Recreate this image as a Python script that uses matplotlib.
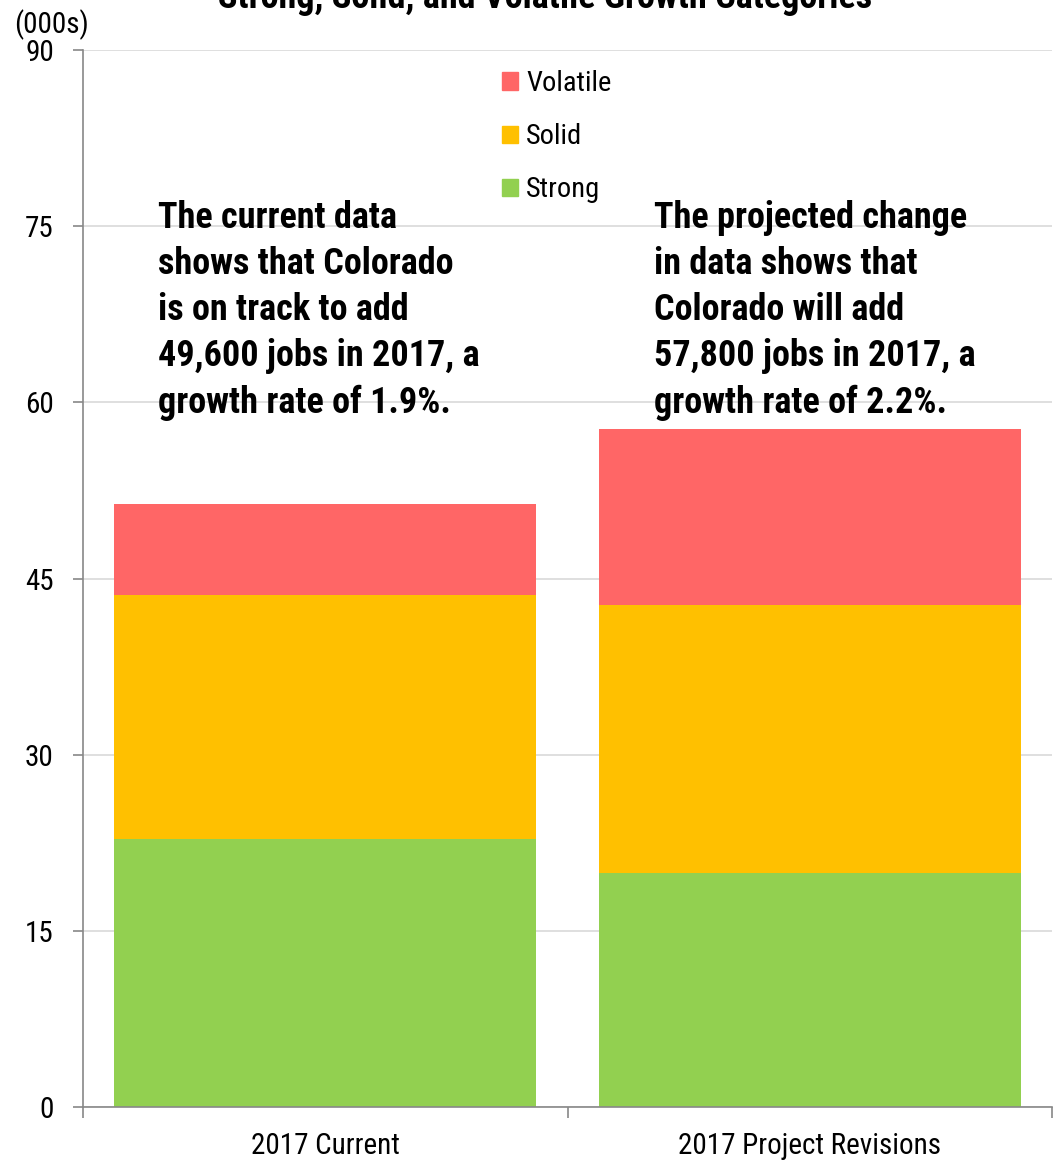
import matplotlib
matplotlib.use("Agg")
import matplotlib.pyplot as plt
from matplotlib.patches import Patch
from matplotlib import font_manager as fm

categories = ["2017 Current", "2017 Project Revisions"]
strong = [22.8, 19.9]
solid = [20.8, 22.85]
volatile = [7.75, 14.95]
yticks = [0, 15, 30, 45, 60, 75, 90]
series_names = ["Volatile", "Solid", "Strong"]
note_left = "The current data\nshows that Colorado\nis on track to add\n49,600 jobs in 2017, a\ngrowth rate of 1.9%."
note_right = "The projected change\nin data shows that\nColorado will add\n57,800 jobs in 2017, a\ngrowth rate of 2.2%."
title = "Strong, Solid, and Volatile Growth Categories"
unit = "(000s)"

c_strong = "#92D050"
c_solid = "#FFC000"
c_vol = "#FF6666"

avail = {f.name for f in fm.fontManager.ttflist}
cands = ["Liberation Sans Narrow", "Arial Narrow", "Roboto Condensed", "PT Sans Narrow", "Archivo Narrow"]
chosen = [c for c in cands if c in avail][:1]
fam = chosen + ["Liberation Sans", "DejaVu Sans"]
plt.rcParams["font.family"] = fam

fig = plt.figure(figsize=(10.55, 11.62), dpi=100)
ax = fig.add_axes([83/1055, 1 - 1107/1162, (1052-83)/1055, (1107-50)/1162])

x = list(range(len(categories)))
w = 0.871
ax.bar(x, strong, width=w, color=c_strong, zorder=2)
ax.bar(x, solid, width=w, bottom=strong, color=c_solid, zorder=2)
b3 = [a + b for a, b in zip(strong, solid)]
ax.bar(x, volatile, width=w, bottom=b3, color=c_vol, zorder=2)

ax.set_xlim(-0.5, 1.5)
ax.set_ylim(0, 90)
ax.set_yticks(yticks)
ax.set_yticklabels([str(t) for t in yticks], fontsize=21)
ax.yaxis.grid(True, color="#D9D9D9", linewidth=1.2, zorder=0)
ax.set_axisbelow(True)
ax.set_xticks([-0.5, 0.5, 1.5], minor=False)
ax.set_xticklabels(["", "", ""])
ax.set_xticks(x, minor=True)
ax.set_xticklabels(categories, minor=True, fontsize=21)
ax.tick_params(axis="x", which="minor", length=0, pad=18)
ax.tick_params(axis="x", which="major", length=8, color="#888888", width=1.2)
ax.tick_params(axis="y", length=7, color="#888888", pad=14, width=1.2)
for s in ["top", "right"]:
    ax.spines[s].set_visible(False)
ax.spines["left"].set_color("#888888")
ax.spines["bottom"].set_color("#888888")
ax.spines["left"].set_linewidth(1.2)
ax.spines["bottom"].set_linewidth(1.2)

fig.text(14/1055, 1 - 25/1162, unit, fontsize=21, ha="left", va="center")
fig.text(545/1055, 1 - 8/1162, title, fontsize=26, fontweight="bold",
         ha="center", va="baseline")

handles = [Patch(color=c, label=n) for c, n in zip([c_vol, c_solid, c_strong], series_names)]
ax.legend(handles=handles, loc="upper left", bbox_to_anchor=(419/969, 1 - 20/1057),
          frameon=False, fontsize=20.5, handlelength=0.55, handleheight=0.55,
          handletextpad=0.3, labelspacing=0.92, borderaxespad=0, borderpad=0)

fig.text(158/1055, 1 - 200/1162, note_left, fontsize=26, fontweight="bold",
         ha="left", va="top", linespacing=1.36)
fig.text(654/1055, 1 - 200/1162, note_right, fontsize=26, fontweight="bold",
         ha="left", va="top", linespacing=1.36)

fig.savefig("out.png", dpi=100)
